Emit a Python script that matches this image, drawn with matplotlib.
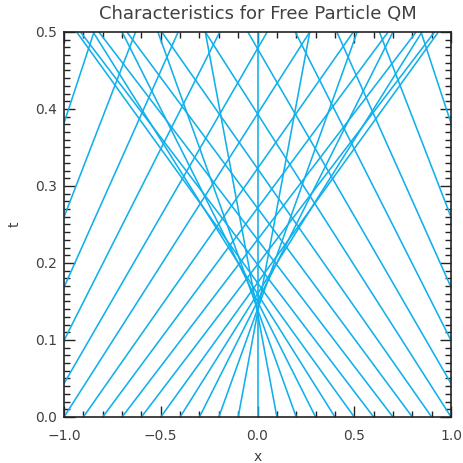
import numpy as np
import matplotlib
matplotlib.use("Agg")
import matplotlib.pyplot as plt
from matplotlib.ticker import MultipleLocator, FixedLocator

# starting positions at t=0 (lines outside [-1,1] enter through the side walls)
x_start = [-1.5, -1.4, -1.3, -1.2, -1.1, -1.0, -0.9, -0.8, -0.7, -0.6, -0.5,
           -0.4, -0.3, -0.2, -0.1, 0.0, 0.1, 0.2, 0.3, 0.4, 0.5, 0.6, 0.7,
           0.8, 0.9, 1.0, 1.1, 1.2, 1.3, 1.4, 1.5]
# velocities dx/dt read from the slopes of the characteristics
velocity = [1.31, 1.54, 1.78, 2.01, 2.30, 2.54, 2.79, 2.95, 3.04, 3.03, 2.87,
            2.50, 2.00, 1.43, 0.74, 0.0, -0.74, -1.43, -2.00, -2.50, -2.87,
            -3.03, -3.04, -2.95, -2.79, -2.54, -2.30, -2.01, -1.78, -1.54, -1.31]
t_span = [0.0, 0.5]

x_ticks = [-1.0, -0.5, 0.0, 0.5, 1.0]
x_ticklabels = ["\u22121.0", "\u22120.5", "0.0", "0.5", "1.0"]
y_ticks = [0.0, 0.1, 0.2, 0.3, 0.4, 0.5]
y_ticklabels = ["0.0", "0.1", "0.2", "0.3", "0.4", "0.5"]

line_color = "#10B0EC"
text_color = "#404040"

fig = plt.figure(figsize=(4.64, 4.63), dpi=100)
ax = fig.add_axes([0.138, 0.0994, 0.834, 0.8316])

t = np.array(t_span)
for x0, v in zip(x_start, velocity):
    ax.plot(x0 + v * t, t, color=line_color, lw=1.15, solid_capstyle="butt")

ax.set_xlim(-1, 1)
ax.set_ylim(0, 0.5)
ax.xaxis.set_major_locator(FixedLocator(x_ticks))
ax.set_xticklabels(x_ticklabels)
ax.yaxis.set_major_locator(FixedLocator(y_ticks))
ax.set_yticklabels(y_ticklabels)
ax.xaxis.set_minor_locator(MultipleLocator(0.1))
ax.yaxis.set_minor_locator(MultipleLocator(0.01))
ax.tick_params(which="both", direction="in", top=True, right=True,
               color="#222222", labelcolor=text_color, labelsize=10)
ax.tick_params(axis="x", which="both", pad=9)
ax.tick_params(axis="y", which="both", pad=5)
ax.tick_params(which="major", length=8, width=1.0)
ax.tick_params(which="minor", length=4, width=1.0)
for s in ax.spines.values():
    s.set_color("#222222")
    s.set_linewidth(1.2)

ax.set_xlabel("x", color=text_color, fontsize=10, labelpad=5)
ax.set_ylabel("t", color=text_color, fontsize=10, labelpad=10)
ax.set_title("Characteristics for Free Particle QM", color=text_color,
             fontsize=13, pad=9)

fig.savefig("out.png", dpi=100)
